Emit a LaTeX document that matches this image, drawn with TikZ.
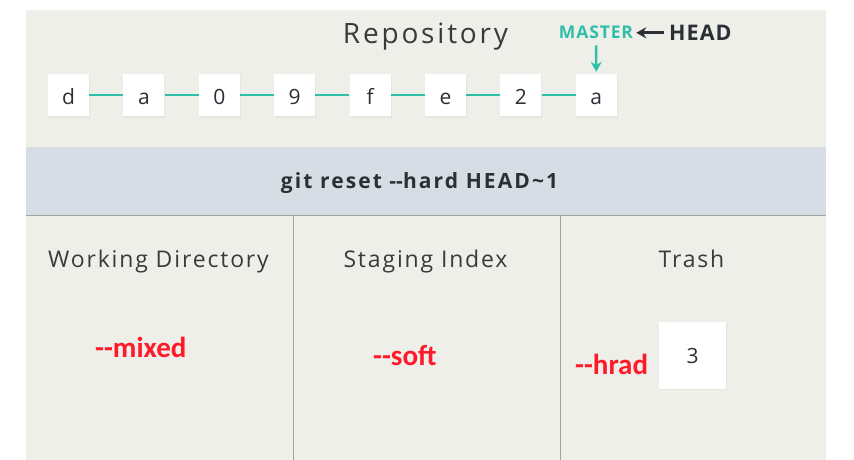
\documentclass[tikz,border=0pt]{standalone}
\usepackage{fontspec}
\setmainfont{Open Sans}
\newfontfamily\litefont[LetterSpace=8]{Open Sans}
\newfontfamily\titlefont[LetterSpace=10]{Open Sans}
\newfontfamily\capsfont[LetterSpace=5]{Open Sans}
\newfontfamily\cmdfont[LetterSpace=10]{Open Sans}
\newfontfamily\redfont{Carlito}
\usetikzlibrary{shadows,arrows.meta}
\definecolor{panel}{HTML}{EFEFE9}
\definecolor{band}{HTML}{D6DDE4}
\definecolor{tealc}{HTML}{2FBFA8}
\definecolor{darkc}{HTML}{2B2F36}
\definecolor{divc}{HTML}{A3A39E}
\definecolor{redc}{HTML}{FF1A2A}
\definecolor{textg}{HTML}{3A3A3A}
\newcommand\dashdash{\mbox{-}\mbox{-}}
\begin{document}
\begin{tikzpicture}[x=1pt,y=-1pt,
  commit/.style={fill=white, minimum width=41pt, minimum height=42pt, inner sep=0pt,
    text height=18pt, text depth=0pt, font=\fontsize{21}{24}\selectfont, text=darkc,
    drop shadow={shadow xshift=1pt, shadow yshift=-1.5pt, opacity=0.08}},
  link/.style={tealc, line width=1.6pt},
  coltitle/.style={font=\litefont\fontsize{23}{26}\selectfont, text=textg, anchor=base, inner sep=0pt},
  redlabel/.style={font=\redfont\bfseries\fontsize{29}{32}\selectfont, text=redc, anchor=base west, inner sep=0pt},
  divider/.style={divc, line width=0.8pt}]
\useasboundingbox (0,0) rectangle (854,460);
\fill[white] (0,0) rectangle (854,460);
% panels
\fill[panel] (26,10) rectangle (826,147);
\fill[band] (26,147) rectangle (826,215);
\fill[panel] (26,215) rectangle (826,460);
\draw[divider] (26,215) -- (826,215);
\draw[divider] (293,215) -- (293,460);
\draw[divider] (560,215) -- (560,460);
% title
\node[coltitle, font=\titlefont\fontsize{28}{30}\selectfont] (repo) at (425.5,44) {Repository};
% commits
\node[commit] (c1) at (68.5,95) {d};
\node[commit] (c2) at (143.9,95) {a};
\node[commit] (c3) at (219.3,95) {0};
\node[commit] (c4) at (294.7,95) {9};
\node[commit] (c5) at (370.1,95) {f};
\node[commit] (c6) at (445.5,95) {e};
\node[commit] (c7) at (520.9,95) {2};
\node[commit] (c8) at (596.3,95) {a};
\foreach \a/\b in {c1/c2,c2/c3,c3/c4,c4/c5,c5/c6,c6/c7,c7/c8}
  \draw[link] (\a) -- (\b);
% master / head
\node[inner sep=0pt, anchor=base, text=tealc, font=\capsfont\bfseries\fontsize{17.5}{19}\selectfont] (master) at (596,39) {MASTER};
\node[inner sep=0pt, anchor=base west, text=darkc, font=\capsfont\bfseries\fontsize{21.5}{23}\selectfont] (head) at (669,40.5) {HEAD};
\draw[darkc, line width=2.8pt, shorten >=3pt, shorten <=5pt, -{Stealth[length=10pt,width=11pt]}]
  (head.west) -- (master.east |- head.west);
\draw[tealc, line width=2.4pt, shorten <=6pt, shorten >=2pt, -{Stealth[length=10pt,width=11pt]}]
  (master.south) -- (c8.north);
% command
\node[inner sep=0pt, anchor=base, text=darkc, font=\cmdfont\bfseries\fontsize{21}{23}\selectfont] (cmd) at (419.5,188.3) {git reset \dashdash hard HEAD\textasciitilde 1};
% column titles
\node[coltitle] (wd) at (158.5,267.3) {Working Directory};
\node[coltitle] (si) at (425.5,267.3) {Staging Index};
\node[coltitle] (tr) at (691.5,267.3) {Trash};
% red labels
\node[redlabel] (mixed) at (95,357.7) {\dashdash mixed};
\node[redlabel] (soft) at (373,365) {\dashdash soft};
\node[redlabel] (hrad) at (575,374) {\dashdash hrad};
% trash box
\node[commit, minimum width=67pt, minimum height=67pt, text height=16pt] (three) at (692.5,355) {3};
\end{tikzpicture}
\end{document}
